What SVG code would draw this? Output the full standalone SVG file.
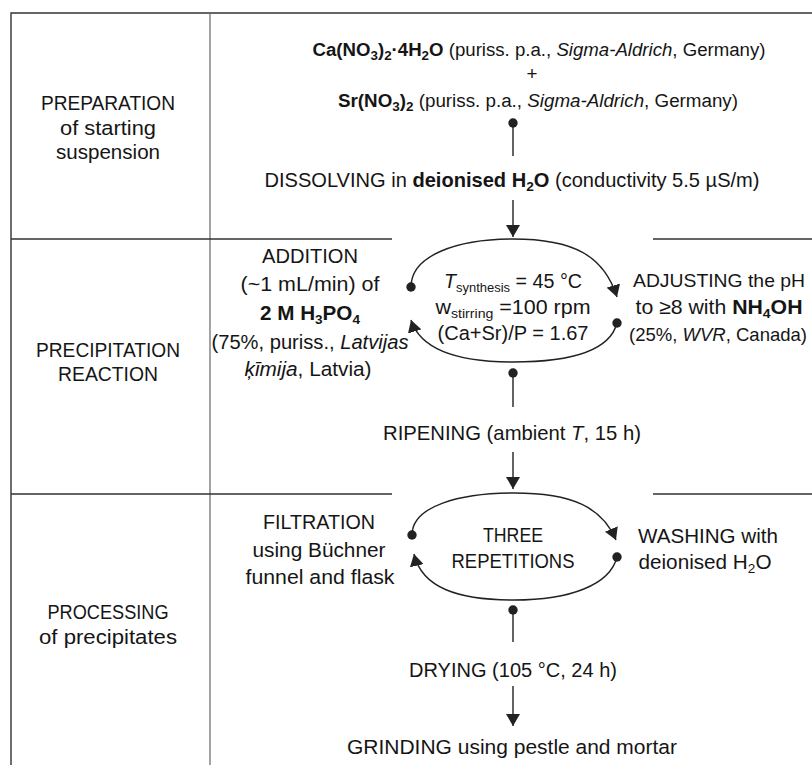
<svg xmlns="http://www.w3.org/2000/svg" width="812" height="765" viewBox="0 0 812 765">
<defs>
<style>
text{font-family:"Liberation Sans",Arial,sans-serif;font-size:20.5px;fill:#151515}
.c{text-anchor:middle}
.t19{font-size:18.8px}
.d20{font-size:19.8px}
.r19{font-size:19px}
.b{font-weight:bold}
.i{font-style:italic}
.s{font-size:13.5px}
.grid{stroke:#333;stroke-width:1.4;fill:none}
.col{stroke:#666;stroke-width:1.2;fill:none}
.conn{stroke:#222;stroke-width:1.4;fill:none}
</style>
<marker id="arr" viewBox="0 0 12 14" refX="12" refY="7" markerWidth="12" markerHeight="14" markerUnits="userSpaceOnUse" orient="auto"><path d="M0,0 L12,7 L0,14 z" fill="#222"/></marker>
<marker id="dot" viewBox="0 0 10 10" refX="5" refY="5" markerWidth="10" markerHeight="10" markerUnits="userSpaceOnUse"><circle cx="5" cy="5" r="4.7" fill="#222"/></marker>
</defs>
<rect width="812" height="765" fill="#fff"/>

<g id="table">
<path class="grid" d="M11,765 V13 H812"/>
<line class="col" x1="210" y1="13" x2="210" y2="765"/>
<path class="grid" d="M11,239 H392 M653,239 H812 M11,494 H392 M653,494 H812"/>
</g>

<g id="connectors" class="conn">
<line x1="513" y1="123" x2="513" y2="156" marker-start="url(#dot)"/>
<line x1="513" y1="200" x2="513" y2="237" marker-end="url(#arr)"/>
<path d="M411,287 C411,255 458,239 513,239 C574,239 604,256 617,297" marker-start="url(#dot)" marker-end="url(#arr)"/>
<path d="M617,323 C610,350 572,362 513,362 C454,362 420,348 411,320" marker-start="url(#dot)" marker-end="url(#arr)"/>
<line x1="513" y1="373" x2="513" y2="407" marker-start="url(#dot)"/>
<line x1="513" y1="452" x2="513" y2="489" marker-end="url(#arr)"/>
<path d="M412,535 C412,506 460,493 514,493 C572,493 602,507 616,540" marker-start="url(#dot)" marker-end="url(#arr)"/>
<path d="M617,557 C610,585 570,600 514,600 C458,600 422,588 414,554" marker-start="url(#dot)" marker-end="url(#arr)"/>
<line x1="513" y1="610" x2="513" y2="642" marker-start="url(#dot)"/>
<line x1="513" y1="686" x2="513" y2="726" marker-end="url(#arr)"/>
</g>

<g id="stage-preparation">
<text class="c" x="108" y="110" textLength="134" lengthAdjust="spacingAndGlyphs">PREPARATION</text>
<text class="c" x="108" y="135" textLength="96" lengthAdjust="spacingAndGlyphs">of starting</text>
<text class="c" x="108" y="159" textLength="104" lengthAdjust="spacingAndGlyphs">suspension</text>
</g>
<g id="stage-precipitation">
<text class="c" x="108" y="357" textLength="144" lengthAdjust="spacingAndGlyphs">PRECIPITATION</text>
<text class="c" x="108" y="381" textLength="100" lengthAdjust="spacingAndGlyphs">REACTION</text>
</g>
<g id="stage-processing">
<text class="c" x="108" y="619" textLength="121" lengthAdjust="spacingAndGlyphs">PROCESSING</text>
<text class="c" x="108" y="644" textLength="138" lengthAdjust="spacingAndGlyphs">of precipitates</text>
</g>

<g id="n-reagents">
<text class="c t19" x="539" y="56" textLength="453" lengthAdjust="spacingAndGlyphs"><tspan class="b">Ca(NO<tspan class="s" dy="4">3</tspan><tspan dy="-4">)</tspan><tspan class="s" dy="4">2</tspan><tspan dy="-4">·4H</tspan><tspan class="s" dy="4">2</tspan><tspan dy="-4">O</tspan></tspan> (puriss. p.a., <tspan class="i">Sigma-Aldrich</tspan>, Germany)</text>
<text class="c t19" x="532" y="80">+</text>
<text class="c t19" x="538" y="107" textLength="400" lengthAdjust="spacingAndGlyphs"><tspan class="b">Sr(NO<tspan class="s" dy="4">3</tspan><tspan dy="-4">)</tspan><tspan class="s" dy="4">2</tspan></tspan><tspan dy="-4"> (puriss. p.a., </tspan><tspan class="i">Sigma-Aldrich</tspan>, Germany)</text>
</g>

<g id="n-dissolving">
<text class="c d20" x="512" y="187" textLength="495" lengthAdjust="spacingAndGlyphs">DISSOLVING in <tspan class="b">deionised H<tspan class="s" dy="4">2</tspan><tspan dy="-4">O</tspan></tspan> (conductivity 5.5 µS/m)</text>
</g>

<g id="n-addition">
<text class="c" x="310" y="263" textLength="96" lengthAdjust="spacingAndGlyphs">ADDITION</text>
<text class="c" x="310" y="291" textLength="139" lengthAdjust="spacingAndGlyphs">(~1 mL/min) of</text>
<text class="c b" x="310" y="320" textLength="100" lengthAdjust="spacingAndGlyphs">2 M H<tspan class="s" dy="4">3</tspan><tspan dy="-4">PO</tspan><tspan class="s" dy="4">4</tspan></text>
<text class="c" x="310" y="349" textLength="197" lengthAdjust="spacingAndGlyphs">(75%, puriss., <tspan class="i">Latvijas</tspan></text>
<text class="c" x="308" y="376" textLength="127" lengthAdjust="spacingAndGlyphs"><tspan class="i">ķīmija</tspan>, Latvia)</text>
</g>

<g id="n-synthesis">
<text class="c" x="513" y="288" textLength="138" lengthAdjust="spacingAndGlyphs"><tspan class="i">T</tspan><tspan class="s" dy="4">synthesis</tspan><tspan dy="-4"> = 45 °C</tspan></text>
<text class="c" x="513" y="314" textLength="155" lengthAdjust="spacingAndGlyphs">w<tspan class="s" dy="4">stirring</tspan><tspan dy="-4"> =100 rpm</tspan></text>
<text class="c" x="513" y="340" textLength="151" lengthAdjust="spacingAndGlyphs">(Ca+Sr)/P = 1.67</text>
</g>

<g id="n-adjusting">
<text class="c r19" x="719" y="287" textLength="172" lengthAdjust="spacingAndGlyphs">ADJUSTING the pH</text>
<text class="c" x="719" y="314" textLength="167" lengthAdjust="spacingAndGlyphs">to ≥8 with <tspan class="b">NH<tspan class="s" dy="4">4</tspan><tspan dy="-4">OH</tspan></tspan></text>
<text class="c r19" x="718" y="341" textLength="178" lengthAdjust="spacingAndGlyphs">(25%, <tspan class="i">WVR</tspan>, Canada)</text>
</g>

<g id="n-ripening">
<text class="c" x="512" y="440" font-size="19.8" textLength="258" lengthAdjust="spacingAndGlyphs" style="font-size:19.8px">RIPENING (ambient <tspan class="i">T</tspan>, 15 h)</text>
</g>

<g id="n-filtration">
<text class="c" x="319" y="529" textLength="112" lengthAdjust="spacingAndGlyphs">FILTRATION</text>
<text class="c" x="319" y="557" textLength="133" lengthAdjust="spacingAndGlyphs">using Büchner</text>
<text class="c" x="320" y="584" textLength="149" lengthAdjust="spacingAndGlyphs">funnel and flask</text>
</g>

<g id="n-repetitions">
<text class="c" x="513" y="542" textLength="60" lengthAdjust="spacingAndGlyphs">THREE</text>
<text class="c" x="513" y="568" textLength="123" lengthAdjust="spacingAndGlyphs">REPETITIONS</text>
</g>

<g id="n-washing">
<text class="c" x="708" y="543" textLength="140" lengthAdjust="spacingAndGlyphs">WASHING with</text>
<text class="c" x="705" y="569" textLength="133" lengthAdjust="spacingAndGlyphs">deionised H<tspan class="s" dy="4">2</tspan><tspan dy="-4">O</tspan></text>
</g>

<g id="n-drying">
<text class="c" x="513" y="677" textLength="208" lengthAdjust="spacingAndGlyphs">DRYING (105 °C, 24 h)</text>
</g>

<g id="n-grinding">
<text class="c" x="512" y="754" textLength="330" lengthAdjust="spacingAndGlyphs">GRINDING using pestle and mortar</text>
</g>
</svg>
